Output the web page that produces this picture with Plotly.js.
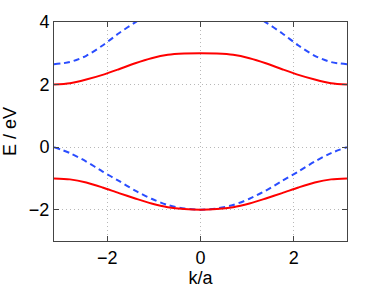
<!DOCTYPE html>
<html>
<head>
<meta charset="utf-8">
<script src="https://cdn.plot.ly/plotly-3.0.1.min.js"></script>
<style>html,body{margin:0;padding:0;background:#fff;}#plot{width:382px;height:288px;}</style>
</head>
<body>
<div id="plot"></div>
<script>
var kValues = [-3.1416, -2.8, -2.45, -2.1, -1.75, -1.4, -1.05, -0.7, -0.35, 0, 0.35, 0.7, 1.05, 1.4, 1.75, 2.1, 2.45, 2.8, 3.1416];
var redUpper = [2.00, 2.04, 2.16, 2.31, 2.49, 2.68, 2.84, 2.95, 2.99, 3.00, 2.99, 2.95, 2.84, 2.68, 2.49, 2.31, 2.16, 2.04, 2.00];
var redLower = [-1.00, -1.03, -1.13, -1.29, -1.47, -1.64, -1.80, -1.92, -1.98, -2.00, -1.98, -1.92, -1.80, -1.64, -1.47, -1.29, -1.13, -1.03, -1.00];
var blueUpper = [2.65, 2.72, 2.92, 3.25, 3.64, 3.99, 4.30, 4.52, 4.65, 4.70, 4.65, 4.52, 4.30, 3.99, 3.64, 3.25, 2.92, 2.72, 2.65];
var blueLower = [0.00, -0.19, -0.46, -0.78, -1.08, -1.39, -1.65, -1.85, -1.96, -2.00, -1.96, -1.85, -1.65, -1.39, -1.08, -0.78, -0.46, -0.19, 0.00];
var xTicks = [-2, 0, 2];
var yTicks = [-2, 0, 2, 4];

var red = '#ff0000', blue = '#2a4dff';
function tr(y, color, dash) {
  return {x: kValues, y: y, mode: 'lines', type: 'scatter',
    line: {color: color, width: 2, dash: dash, shape: 'spline', smoothing: 0.8},
    hoverinfo: 'skip', showlegend: false};
}
var data = [tr(blueUpper, blue, '6px,4px'), tr(blueLower, blue, '6px,4px'), tr(redUpper, red, 'solid'), tr(redLower, red, 'solid')];

var fontFam = 'Liberation Sans, Arial, sans-serif';
var axisCommon = {
  showline: true, linecolor: '#444', linewidth: 1, mirror: 'ticks',
  ticks: 'inside', ticklen: 5, tickcolor: '#444', tickwidth: 1,
  showgrid: true, gridcolor: '#b8b8b8', griddash: '1px,3px', gridwidth: 1,
  zeroline: false, tickfont: {family: fontFam, size: 18, color: '#000'}
};
var layout = {
  width: 382, height: 288,
  margin: {l: 54, r: 35, t: 22, b: 47},
  paper_bgcolor: '#fff', plot_bgcolor: '#fff',
  xaxis: Object.assign({}, axisCommon, {range: [-Math.PI, Math.PI], tickvals: xTicks, ticktext: xTicks.map(function(v){return v < 0 ? '\u2212' + Math.abs(v) : String(v);}),
    title: {text: 'k/a', standoff: 2, font: {family: fontFam, size: 18, color: '#000'}}}),
  yaxis: Object.assign({}, axisCommon, {range: [-3, 4], tickvals: yTicks, ticktext: yTicks.map(function(v){return v < 0 ? '\u2212' + Math.abs(v) : String(v);}),
    title: {text: 'E / eV', standoff: 8, font: {family: fontFam, size: 18, color: '#000'}}}),
  font: {family: fontFam, color: '#000'}
};
Plotly.newPlot('plot', data, layout, {staticPlot: true, displayModeBar: false});
</script>
</body>
</html>
